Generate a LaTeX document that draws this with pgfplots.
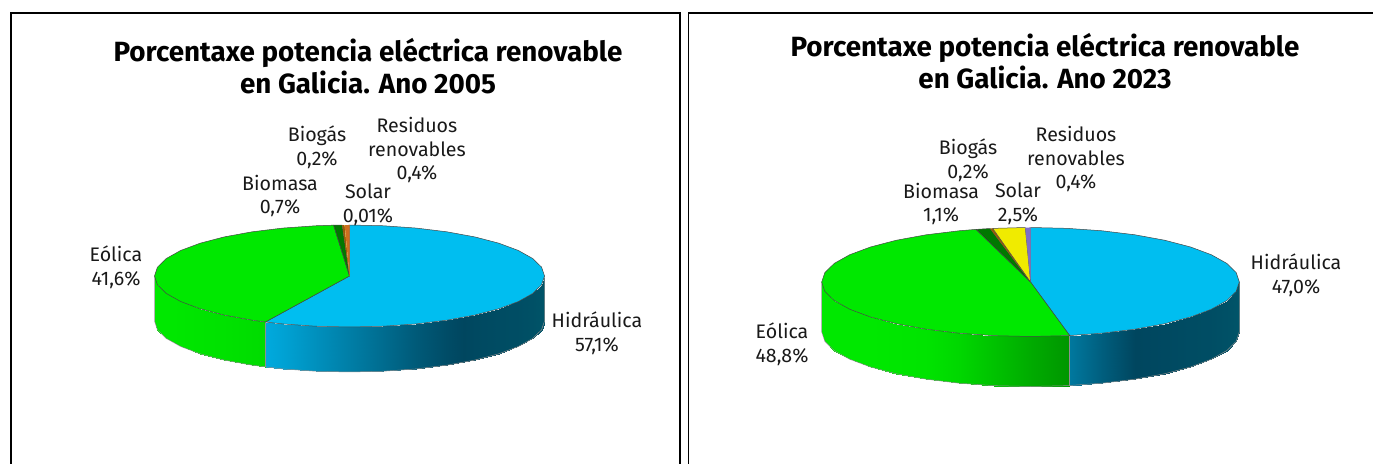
\documentclass[border=0pt]{standalone}
\usepackage{pgfplots}
\pgfplotsset{compat=1.18}
\usepackage{fontspec}
\setmainfont{Fira Sans}
\definecolor{hid}{RGB}{0,190,240}
\definecolor{eol}{RGB}{0,232,0}
\definecolor{bio}{RGB}{0,120,0}
\definecolor{bgs}{RGB}{150,90,10}
\definecolor{sol}{RGB}{240,235,0}
\definecolor{res}{RGB}{125,110,200}
\definecolor{resA}{RGB}{205,110,30}
\definecolor{edge}{RGB}{70,70,70}
\newcommand{\lab}[3]{\node[align=center,inner sep=0pt,font=\fontsize{19.6bp}{23.6bp}\selectfont,text=black!90] at (axis cs:#1,#2) {#3};}
% pixel-to-axis geometry of each pie; tables hold angle (a), radius share (r), depth share (d)
\def\xA{349.5+195*\thisrow{r}*cos(\thisrow{a})}
\def\yA{276-51*\thisrow{r}*sin(\thisrow{a})+45*\thisrow{d}}
\def\xB{1030.5+208.8*\thisrow{r}*cos(\thisrow{a})}
\def\yB{282-54.5*\thisrow{r}*sin(\thisrow{a})+50*\thisrow{d}}
\pgfplotsset{panel/.style={
  at={(#1,0)},anchor=south west,scale only axis,width=684bp,height=464bp,
  ymin=0,ymax=464,y dir=reverse,hide axis,clip=false,
  point meta min=0,point meta max=100,
  colormap={piecm}{rgb255(0pt)=(0,170,222) rgb255(50pt)=(0,70,95) rgb255(60pt)=(0,85,105) rgb255(61pt)=(0,232,0) rgb255(100pt)=(0,150,0)},
  title style={font=\fontsize{27.8bp}{31.5bp}\selectfont\bfseries,align=center,anchor=center},
 },
 wedge/.style={draw=edge,line width=0.5bp,fill=#1,line join=round},
 side/.style={surf,shader=interp,mesh/rows=2,point meta=explicit,forget plot},
 outline/.style={draw=edge!60,line width=0.5bp,no marks}
}
\begin{document}
\begin{tikzpicture}[x=1bp,y=1bp]
\useasboundingbox (0,0) rectangle (1373,464);
%---------------------- 2005 ----------------------
\begin{axis}[panel=0bp,xmin=0,xmax=684,
  title={Porcentaxe potencia eléctrica renovable\\en Galicia. Ano 2005},
  title style={at={(axis cs:368,72)}}]
\addplot[black,line width=1.2bp,no marks] coordinates {(11,464) (11,13) (680,13) (680,464)};
% side, Hidraulica
\addplot[side] table[x expr=\xA,y expr=\yA,meta=c] {
a r d c
-115.56 1 0 0
-110 1 0 4
-100 1 0 13
-90 1 0 22
-80 1 0 31
-70 1 0 40
-60 1 0 47
-50 1 0 52
-40 1 0 54
-30 1 0 55
-20 1 0 57
-10 1 0 59
0 1 0 60
-115.56 1 1 0
-110 1 1 4
-100 1 1 13
-90 1 1 22
-80 1 1 31
-70 1 1 40
-60 1 1 47
-50 1 1 52
-40 1 1 54
-30 1 1 55
-20 1 1 57
-10 1 1 59
0 1 1 60
};
% side, Eolica
\addplot[side] table[x expr=\xA,y expr=\yA,meta=c] {
a r d c
-180 1 0 61
-170 1 0 61
-160 1 0 61
-150 1 0 62
-140 1 0 63
-130 1 0 64
-120 1 0 66
-115.56 1 0 67
-180 1 1 61
-170 1 1 61
-160 1 1 61
-150 1 1 62
-140 1 1 63
-130 1 1 64
-120 1 1 66
-115.56 1 1 67
};
\addplot[outline] table[x expr=\xA,y expr=\yA] {
a r d
-180 1 0
-180 1 1
-170 1 1
-160 1 1
-150 1 1
-140 1 1
-130 1 1
-120 1 1
-110 1 1
-100 1 1
-90 1 1
-80 1 1
-70 1 1
-60 1 1
-50 1 1
-40 1 1
-30 1 1
-20 1 1
-10 1 1
0 1 1
0 1 0
};
\addplot[outline] table[x expr=\xA,y expr=\yA] {
a r d
-115.56 1 0
-115.56 1 1
};
% top wedges: 57.1, 41.6, 0.7, 0.2, 0.01, 0.4 per cent
\addplot[wedge=hid] table[x expr=\xA,y expr=\yA] {
a r d
0 0 0
90 1 0
80 1 0
70 1 0
60 1 0
50 1 0
40 1 0
30 1 0
20 1 0
10 1 0
0 1 0
-10 1 0
-20 1 0
-30 1 0
-40 1 0
-50 1 0
-60 1 0
-70 1 0
-80 1 0
-90 1 0
-100 1 0
-110 1 0
-115.56 1 0
0 0 0
};
\addplot[wedge=eol] table[x expr=\xA,y expr=\yA] {
a r d
0 0 0
-115.56 1 0
-120 1 0
-130 1 0
-140 1 0
-150 1 0
-160 1 0
-170 1 0
-180 1 0
-190 1 0
-200 1 0
-210 1 0
-220 1 0
-230 1 0
-240 1 0
-250 1 0
-260 1 0
-265.32 1 0
0 0 0
};
\addplot[wedge=bio] table[x expr=\xA,y expr=\yA] {
a r d
0 0 0
-265.32 1 0
-267.84 1 0
0 0 0
};
\addplot[fill=bgs,draw=none] table[x expr=\xA,y expr=\yA] {
a r d
0 0 0
-267.84 1 0
-268.56 1 0
0 0 0
};
\addplot[fill=sol,draw=none] table[x expr=\xA,y expr=\yA] {
a r d
0 0 0
-268.56 1 0
-268.6 1 0
0 0 0
};
\addplot[fill=resA,draw=none] table[x expr=\xA,y expr=\yA] {
a r d
0 0 0
-268.6 1 0
-270 1 0
0 0 0
};
\lab{597}{333}{Hidráulica\\57,1\%}
\lab{116}{267}{Eólica\\41,6\%}
\lab{280}{196}{Biomasa\\0,7\%}
\lab{317}{147}{Biogás\\0,2\%}
\lab{417}{150}{Residuos\\renovables\\0,4\%}
\lab{368}{205}{Solar\\0,01\%}
\end{axis}
%---------------------- 2023 ----------------------
\begin{axis}[panel=684bp,xmin=684,xmax=1368,
  title={Porcentaxe potencia eléctrica renovable\\en Galicia. Ano 2023},
  title style={at={(axis cs:1045,67)}}]
\addplot[black,line width=1.2bp,no marks] coordinates {(688.5,464) (688.5,13) (1380,13)};
\addplot[side] table[x expr=\xB,y expr=\yB,meta=c] {
a r d c
-79.2 1 0 25
-70 1 0 38
-60 1 0 50
-50 1 0 52
-40 1 0 54
-30 1 0 55
-20 1 0 57
-10 1 0 59
0 1 0 60
-79.2 1 1 25
-70 1 1 38
-60 1 1 50
-50 1 1 52
-40 1 1 54
-30 1 1 55
-20 1 1 57
-10 1 1 59
0 1 1 60
};
\addplot[side] table[x expr=\xB,y expr=\yB,meta=c] {
a r d c
-180 1 0 61
-170 1 0 61
-160 1 0 61
-150 1 0 61
-140 1 0 61
-130 1 0 62
-120 1 0 63
-110 1 0 69
-100 1 0 79
-90 1 0 90
-79.2 1 0 100
-180 1 1 61
-170 1 1 61
-160 1 1 61
-150 1 1 61
-140 1 1 61
-130 1 1 62
-120 1 1 63
-110 1 1 69
-100 1 1 79
-90 1 1 90
-79.2 1 1 100
};
\addplot[outline] table[x expr=\xB,y expr=\yB] {
a r d
-180 1 0
-180 1 1
-170 1 1
-160 1 1
-150 1 1
-140 1 1
-130 1 1
-120 1 1
-110 1 1
-100 1 1
-90 1 1
-80 1 1
-70 1 1
-60 1 1
-50 1 1
-40 1 1
-30 1 1
-20 1 1
-10 1 1
0 1 1
0 1 0
};
\addplot[outline] table[x expr=\xB,y expr=\yB] {
a r d
-79.2 1 0
-79.2 1 1
};
% top wedges: 47.0, 48.8, 1.1, 0.2, 2.5, 0.4 per cent
\addplot[wedge=hid] table[x expr=\xB,y expr=\yB] {
a r d
0 0 0
90 1 0
80 1 0
70 1 0
60 1 0
50 1 0
40 1 0
30 1 0
20 1 0
10 1 0
0 1 0
-10 1 0
-20 1 0
-30 1 0
-40 1 0
-50 1 0
-60 1 0
-70 1 0
-79.2 1 0
0 0 0
};
\addplot[wedge=eol] table[x expr=\xB,y expr=\yB] {
a r d
0 0 0
-79.2 1 0
-90 1 0
-100 1 0
-110 1 0
-120 1 0
-130 1 0
-140 1 0
-150 1 0
-160 1 0
-170 1 0
-180 1 0
-190 1 0
-200 1 0
-210 1 0
-220 1 0
-230 1 0
-240 1 0
-250 1 0
-254.88 1 0
0 0 0
};
\addplot[wedge=bio] table[x expr=\xB,y expr=\yB] {
a r d
0 0 0
-254.88 1 0
-258.84 1 0
0 0 0
};
\addplot[fill=bgs,draw=none] table[x expr=\xB,y expr=\yB] {
a r d
0 0 0
-258.84 1 0
-259.56 1 0
0 0 0
};
\addplot[wedge=sol] table[x expr=\xB,y expr=\yB] {
a r d
0 0 0
-259.56 1 0
-268.56 1 0
0 0 0
};
\addplot[fill=res,draw=none] table[x expr=\xB,y expr=\yB] {
a r d
0 0 0
-268.56 1 0
-270 1 0
0 0 0
};
\lab{1296}{275}{Hidráulica\\47,0\%}
\lab{782}{344}{Eólica\\48,8\%}
\lab{941}{204}{Biomasa\\1,1\%}
\lab{968}{160}{Biogás\\0,2\%}
\lab{1076}{159}{Residuos\\renovables\\0,4\%}
\lab{1018}{204}{Solar\\2,5\%}
\end{axis}
\end{tikzpicture}
\end{document}
